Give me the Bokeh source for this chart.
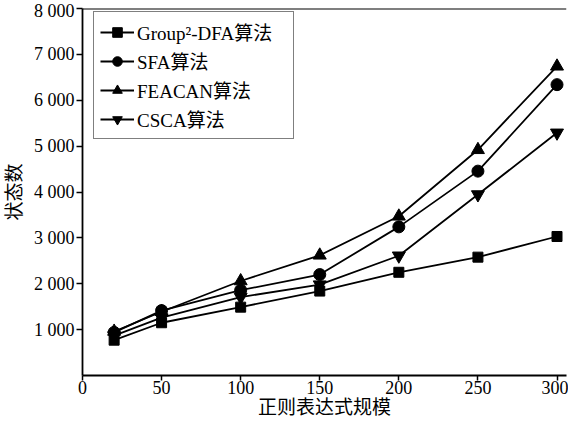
from bokeh.plotting import figure
from bokeh.models import FixedTicker, Span, Legend, LegendItem, Range1d
from bokeh.embed import file_html
from bokeh.resources import INLINE

x = [20, 50, 100, 150, 200, 250, 300]
group2_dfa = [770, 1150, 1490, 1840, 2250, 2580, 3030]
sfa = [940, 1415, 1860, 2200, 3240, 4455, 6340]
feacan = [960, 1390, 2060, 2620, 3470, 4920, 6740]
csca = [870, 1260, 1710, 1980, 2610, 3945, 5290]

x_ticks = [0, 50, 100, 150, 200, 250, 300]
y_ticks = [1000, 2000, 3000, 4000, 5000, 6000, 7000, 8000]
y_labels = {t: f"{t // 1000} 000" for t in y_ticks}

FONT = "'Liberation Serif', 'Times New Roman', 'Noto Sans CJK SC', serif"

p = figure(width=568, height=423, output_backend="svg", toolbar_location=None,
           x_range=Range1d(0, 306), y_range=Range1d(0, 8000),
           min_border_left=81, min_border_top=8, min_border_bottom=48, min_border_right=2)
p.outline_line_color = None
p.xgrid.visible = False
p.ygrid.visible = False

for ax in (p.xaxis[0], p.yaxis[0]):
    ax.axis_line_width = 1.8
    ax.axis_line_color = "black"
    ax.major_tick_line_width = 1.5
    ax.major_tick_line_color = "black"
    ax.major_tick_out = 6
    ax.major_tick_in = 0
    ax.minor_tick_line_color = None
    ax.major_label_text_font = FONT
    ax.major_label_text_font_size = "18px"
    ax.major_label_text_color = "black"
    ax.axis_label_text_font = FONT
    ax.axis_label_text_font_size = "19px"
    ax.axis_label_text_font_style = "normal"
    ax.axis_label_text_color = "black"

p.xaxis.ticker = FixedTicker(ticks=x_ticks)
p.yaxis.ticker = FixedTicker(ticks=y_ticks)
p.yaxis.major_label_overrides = y_labels
p.xaxis.axis_label = "正则表达式规模"
p.yaxis.axis_label = "状态数"
p.xaxis.major_tick_out = 5
p.xaxis.major_label_standoff = 0
p.yaxis.major_label_standoff = 2
p.xaxis.axis_label_standoff = 0
p.yaxis.axis_label_standoff = 6

p.add_layout(Span(location=8000, dimension="width", line_color="black", line_width=1.8))

lw = 1.8
r1 = p.line(x, group2_dfa, line_color="black", line_width=lw)
m1 = p.scatter(x, group2_dfa, marker="square", size=10, color="black")
r2 = p.line(x, sfa, line_color="black", line_width=lw)
m2 = p.scatter(x, sfa, marker="circle", size=12, color="black")
r3 = p.line(x, feacan, line_color="black", line_width=lw)
m3 = p.scatter(x, feacan, marker="triangle", size=13, color="black")
r4 = p.line(x, csca, line_color="black", line_width=lw)
m4 = p.scatter(x, csca, marker="inverted_triangle", size=13, color="black")

legend = Legend(items=[
    LegendItem(label="Group²-DFA算法", renderers=[r1, m1]),
    LegendItem(label="SFA算法", renderers=[r2, m2]),
    LegendItem(label="FEACAN算法", renderers=[r3, m3]),
    LegendItem(label="CSCA算法", renderers=[r4, m4]),
], location=(11, 236))
legend.border_line_color = "black"
legend.border_line_width = 1.8
legend.label_text_font = FONT
legend.label_text_font_size = "19px"
legend.label_text_color = "black"
legend.glyph_width = 34
legend.glyph_height = 24
legend.label_height = 24
legend.label_width = 150
legend.spacing = 2
legend.padding = 6
legend.label_standoff = 3
legend.margin = 0
legend.background_fill_alpha = 1
p.add_layout(legend)

open("out.html", "w").write(file_html(p, INLINE))
